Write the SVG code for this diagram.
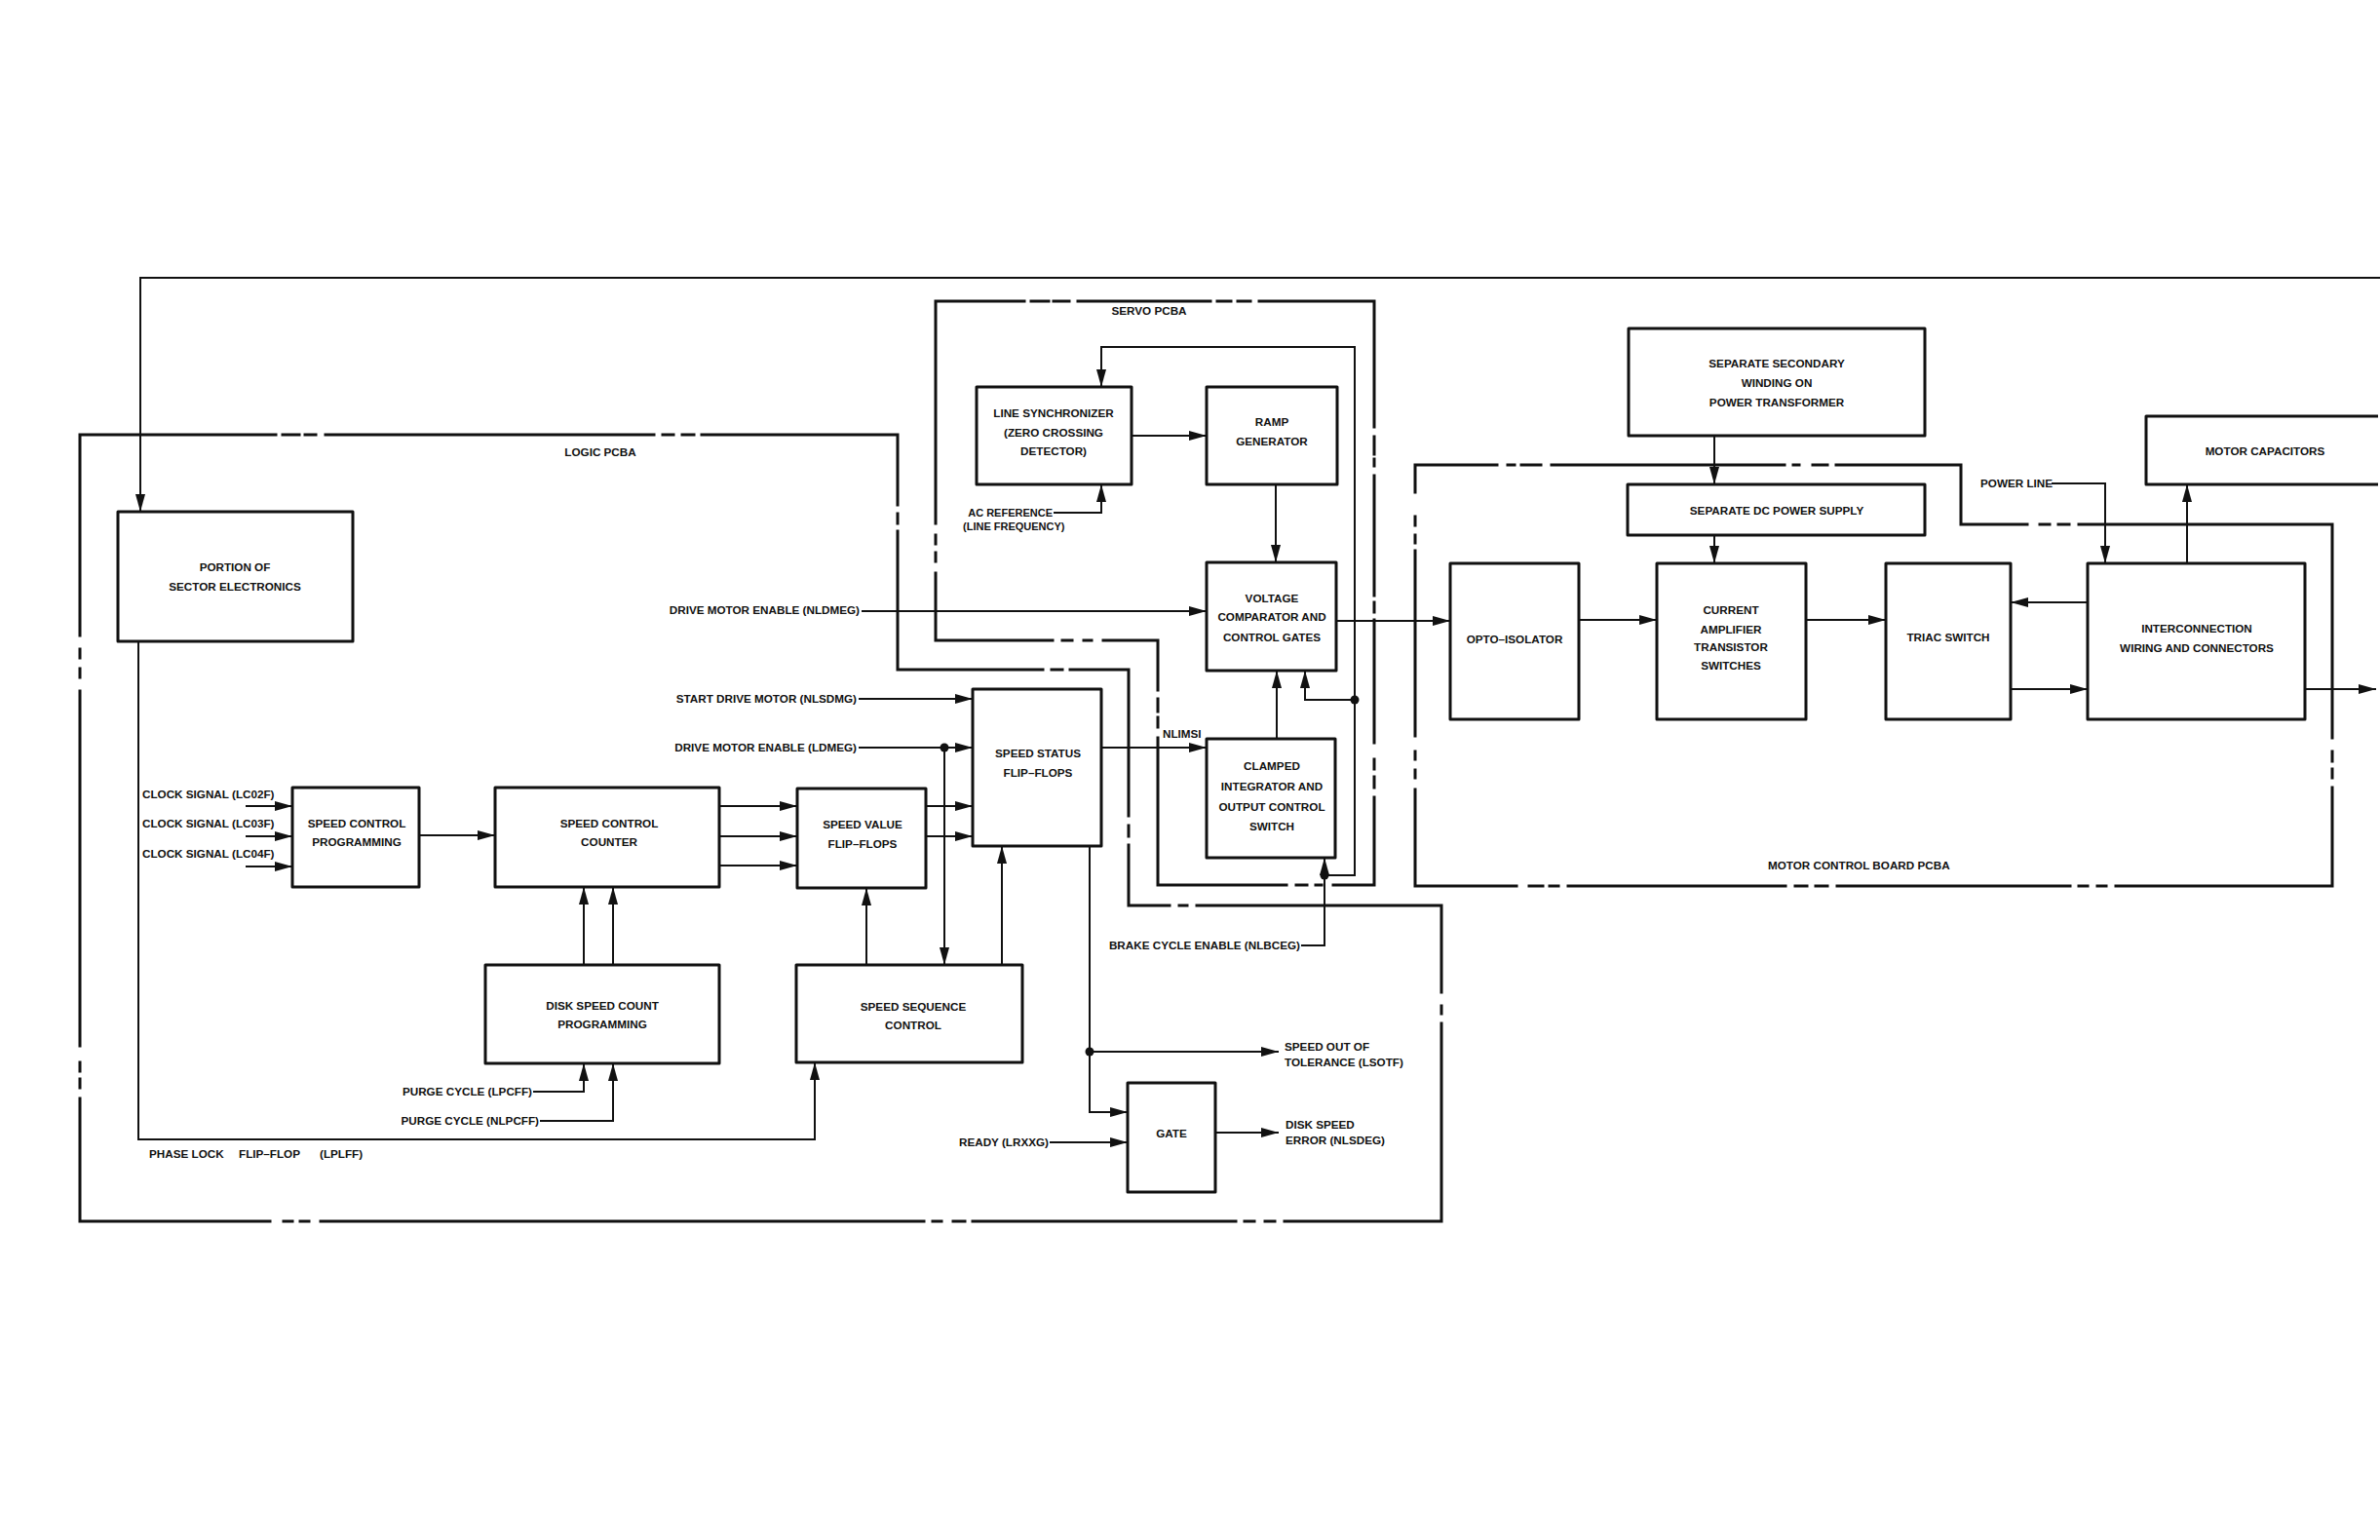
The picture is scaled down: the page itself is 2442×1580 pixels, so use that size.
<svg xmlns="http://www.w3.org/2000/svg" width="2442" height="1580" viewBox="0 0 2442 1580">
<style>
.box{fill:none;stroke:#111;stroke-width:3;stroke-linejoin:round}
.ln{fill:none;stroke:#111;stroke-width:2}
.bd{fill:none;stroke:#111;stroke-width:3;stroke-linecap:square;stroke-linejoin:miter}
text{font-family:"Liberation Sans",Arial,sans-serif;font-weight:bold;font-size:11.7px;fill:#111}
.c{text-anchor:middle}
.e{text-anchor:end}
.dot{fill:#111}
</style>
<defs>
<marker id="ah" markerUnits="userSpaceOnUse" markerWidth="18" markerHeight="10" refX="18" refY="5" orient="auto"><path d="M0,0 L18,5 L0,10 z" fill="#111"/></marker>
</defs>
<rect width="2442" height="1580" fill="#fff"/>

<g id="borders">
<path class="bd" d="M82,446 H283 M290,446 H307 M313,446 H324 M334,446 H671 M680,446 H691 M700,446 H712 M720,446 H921 V518 M921,527 V537 M921,545 V687 H1070 M1079,687 H1090 M1098,687 H1158 V837 M1158,847 V858 M1158,867 V929 H1200 M1210,929 H1218 M1228,929 H1479 V1018 M1479,1032 V1040 M1479,1050 V1253 H1318 M1308,1253 H1298 M1287,1253 H1277 M1268,1253 H998 M990,1253 H978 M966,1253 H957 M948,1253 H329 M317,1253 H308 M300,1253 H291 M277,1253 H82 V1127 M82,1116 V1107 M82,1099 V1090 M82,1073 V709 M82,695 V686 M82,675 V666 M82,652 V446"/>
<text class="c" x="616" y="468">LOGIC PCBA</text>
<path class="bd" d="M960,309 H1051 M1058,309 H1076 M1081,309 H1097 M1106,309 H1242 M1249,309 H1263 M1270,309 H1283 M1292,309 H1410 V438 M1410,448 V466 M1410,471 V478 M1410,488 V611 M1410,618 V628 M1410,636 V762 M1410,779 V789 M1410,797 V808 M1410,818 V908 H1368 M1356,908 H1350 M1341,908 H1330 M1320,908 H1188 V757 M1188,746 V736 M1188,730 V717 M1188,708 V657 H1132 M1120,657 H1112 M1100,657 H1090 M1080,657 H960 V588 M960,576 V567 M960,558 V549 M960,537 V309"/>
<text class="c" x="1179" y="323">SERVO PCBA</text>
<path class="bd" d="M1452,477 H1536 M1547,477 H1554 M1561,477 H1581 M1592,477 H1831 M1840,477 H1846 M1860,477 H1875 M1884,477 H2012 V538 H2080 M2093,538 H2103 M2112,538 H2123 M2133,538 H2393 V757 M2393,771 V781 M2393,789 V798 M2393,808 V909 H2171 M2161,909 H2152 M2142,909 H2133 M2124,909 H1885 M1875,909 H1863 M1854,909 H1842 M1832,909 H1609 M1599,909 H1590 M1583,909 H1569 M1556,909 H1452 V810 M1452,798 V790 M1452,779 V771 M1452,755 V565 M1452,557 V549 M1452,539 V530 M1452,505 V477"/>
<text x="1814" y="892">MOTOR CONTROL BOARD PCBA</text>
</g>

<g id="portion">
<rect class="box" x="121" y="525" width="241" height="133"/>
<text class="c" x="241" y="586">PORTION OF</text>
<text class="c" x="241" y="606">SECTOR ELECTRONICS</text>
</g>
<g id="speed-control-programming">
<rect class="box" x="300" y="808" width="130" height="102"/>
<text class="c" x="366" y="849">SPEED CONTROL</text>
<text class="c" x="366" y="868">PROGRAMMING</text>
</g>
<g id="speed-control-counter">
<rect class="box" x="508" y="808" width="230" height="102"/>
<text class="c" x="625" y="849">SPEED CONTROL</text>
<text class="c" x="625" y="868">COUNTER</text>
</g>
<g id="speed-value">
<rect class="box" x="818" y="809" width="132" height="102"/>
<text class="c" x="885" y="850">SPEED VALUE</text>
<text class="c" x="885" y="870">FLIP–FLOPS</text>
</g>
<g id="disk-speed-count">
<rect class="box" x="498" y="990" width="240" height="101"/>
<text class="c" x="618" y="1036">DISK SPEED COUNT</text>
<text class="c" x="618" y="1055">PROGRAMMING</text>
</g>
<g id="speed-sequence">
<rect class="box" x="817" y="990" width="232" height="100"/>
<text class="c" x="937" y="1037">SPEED SEQUENCE</text>
<text class="c" x="937" y="1056">CONTROL</text>
</g>
<g id="speed-status">
<rect class="box" x="998" y="707" width="132" height="161"/>
<text class="c" x="1065" y="777">SPEED STATUS</text>
<text class="c" x="1065" y="797">FLIP–FLOPS</text>
</g>
<g id="gate">
<rect class="box" x="1157" y="1111" width="90" height="112"/>
<text class="c" x="1202" y="1167">GATE</text>
</g>
<g id="line-sync">
<rect class="box" x="1002" y="397" width="159" height="100"/>
<text class="c" x="1081" y="428">LINE SYNCHRONIZER</text>
<text class="c" x="1081" y="448">(ZERO CROSSING</text>
<text class="c" x="1081" y="467">DETECTOR)</text>
</g>
<g id="ramp">
<rect class="box" x="1238" y="397" width="134" height="100"/>
<text class="c" x="1305" y="437">RAMP</text>
<text class="c" x="1305" y="457">GENERATOR</text>
</g>
<g id="voltage-comparator">
<rect class="box" x="1238" y="577" width="133" height="111"/>
<text class="c" x="1305" y="618">VOLTAGE</text>
<text class="c" x="1305" y="637">COMPARATOR AND</text>
<text class="c" x="1305" y="658">CONTROL GATES</text>
</g>
<g id="clamped-integrator">
<rect class="box" x="1238" y="758" width="132" height="122"/>
<text class="c" x="1305" y="790">CLAMPED</text>
<text class="c" x="1305" y="811">INTEGRATOR AND</text>
<text class="c" x="1305" y="832">OUTPUT CONTROL</text>
<text class="c" x="1305" y="852">SWITCH</text>
</g>
<g id="opto-isolator">
<rect class="box" x="1488" y="578" width="132" height="160"/>
<text class="c" x="1554" y="660">OPTO–ISOLATOR</text>
</g>
<g id="current-amplifier">
<rect class="box" x="1700" y="578" width="153" height="160"/>
<text class="c" x="1776" y="630">CURRENT</text>
<text class="c" x="1776" y="650">AMPLIFIER</text>
<text class="c" x="1776" y="668">TRANSISTOR</text>
<text class="c" x="1776" y="687">SWITCHES</text>
</g>
<g id="triac">
<rect class="box" x="1935" y="578" width="128" height="160"/>
<text class="c" x="1999" y="658">TRIAC SWITCH</text>
</g>
<g id="interconnection">
<rect class="box" x="2142" y="578" width="223" height="160"/>
<text class="c" x="2254" y="649">INTERCONNECTION</text>
<text class="c" x="2254" y="669">WIRING AND CONNECTORS</text>
</g>
<g id="secondary-winding">
<rect class="box" x="1671" y="337" width="304" height="110"/>
<text class="c" x="1823" y="377">SEPARATE SECONDARY</text>
<text class="c" x="1823" y="397">WINDING ON</text>
<text class="c" x="1823" y="417">POWER TRANSFORMER</text>
</g>
<g id="dc-supply">
<rect class="box" x="1670" y="497" width="305" height="52"/>
<text class="c" x="1823" y="528">SEPARATE DC POWER SUPPLY</text>
</g>
<g id="motor-capacitors">
<path class="box" d="M2440,427 H2202 V497 H2440"/>
<text class="c" x="2324" y="467">MOTOR CAPACITORS</text>
</g>

<g id="connectors">
<path class="ln" marker-end="url(#ah)" d="M2442,285 H144 V525"/>
<path class="ln" marker-end="url(#ah)" d="M142,658 V1169 H836 V1090"/>
<path class="ln" marker-end="url(#ah)" d="M252,827 H300"/>
<path class="ln" marker-end="url(#ah)" d="M252,858 H300"/>
<path class="ln" marker-end="url(#ah)" d="M252,889 H300"/>
<path class="ln" marker-end="url(#ah)" d="M430,857 H508"/>
<path class="ln" marker-end="url(#ah)" d="M738,827 H818"/>
<path class="ln" marker-end="url(#ah)" d="M738,858 H818"/>
<path class="ln" marker-end="url(#ah)" d="M738,888 H818"/>
<path class="ln" marker-end="url(#ah)" d="M950,827 H998"/>
<path class="ln" marker-end="url(#ah)" d="M950,858 H998"/>
<path class="ln" marker-end="url(#ah)" d="M599,990 V910"/>
<path class="ln" marker-end="url(#ah)" d="M629,990 V910"/>
<path class="ln" marker-end="url(#ah)" d="M547,1120 H599 V1091"/>
<path class="ln" marker-end="url(#ah)" d="M554,1150 H629 V1091"/>
<path class="ln" marker-end="url(#ah)" d="M889,990 V911"/>
<path class="ln" marker-end="url(#ah)" d="M1028,990 V868"/>
<path class="ln" marker-end="url(#ah)" d="M881,717 H998"/>
<path class="ln" marker-end="url(#ah)" d="M881,767 H998"/>
<path class="ln" marker-end="url(#ah)" d="M969,767 V990"/>
<circle class="dot" cx="969" cy="767" r="4.5"/>
<path class="ln" marker-end="url(#ah)" d="M1130,767 H1238"/>
<path class="ln" marker-end="url(#ah)" d="M1118,868 V1141 H1157"/>
<path class="ln" marker-end="url(#ah)" d="M1118,1079 H1312"/>
<circle class="dot" cx="1118" cy="1079" r="4.5"/>
<path class="ln" marker-end="url(#ah)" d="M1077,1172 H1157"/>
<path class="ln" marker-end="url(#ah)" d="M1247,1162 H1312"/>
<path class="ln" marker-end="url(#ah)" d="M1335,970 H1359 V880"/>
<path class="ln" marker-end="url(#ah)" d="M1359,898 H1390 V356 H1130 V397"/>
<circle class="dot" cx="1359" cy="898" r="4.5"/>
<path class="ln" marker-end="url(#ah)" d="M1390,718 H1339 V688"/>
<circle class="dot" cx="1390" cy="718" r="4.5"/>
<path class="ln" marker-end="url(#ah)" d="M1310,758 V688"/>
<path class="ln" marker-end="url(#ah)" d="M1309,497 V577"/>
<path class="ln" marker-end="url(#ah)" d="M1161,447 H1238"/>
<path class="ln" marker-end="url(#ah)" d="M1081,526 H1130 V497"/>
<path class="ln" marker-end="url(#ah)" d="M884,627 H1238"/>
<path class="ln" marker-end="url(#ah)" d="M1371,637 H1488"/>
<path class="ln" marker-end="url(#ah)" d="M1620,636 H1700"/>
<path class="ln" marker-end="url(#ah)" d="M1853,636 H1935"/>
<path class="ln" marker-end="url(#ah)" d="M2142,618 H2063"/>
<path class="ln" marker-end="url(#ah)" d="M2063,707 H2142"/>
<path class="ln" marker-end="url(#ah)" d="M2365,707 H2438"/>
<path class="ln" marker-end="url(#ah)" d="M2244,578 V497"/>
<path class="ln" marker-end="url(#ah)" d="M2105,496 H2160 V578"/>
<path class="ln" marker-end="url(#ah)" d="M1759,447 V497"/>
<path class="ln" marker-end="url(#ah)" d="M1759,549 V578"/>
</g>

<g id="labels">
<text class="e" x="882" y="630">DRIVE MOTOR ENABLE (NLDMEG)</text>
<text class="e" x="879" y="721">START DRIVE MOTOR (NLSDMG)</text>
<text class="e" x="879" y="771">DRIVE MOTOR ENABLE (LDMEG)</text>
<text x="1193" y="757">NLIMSI</text>
<text x="146" y="819">CLOCK SIGNAL (LC02F)</text>
<text x="146" y="849">CLOCK SIGNAL (LC03F)</text>
<text x="146" y="880">CLOCK SIGNAL (LC04F)</text>
<text class="e" x="546" y="1124">PURGE CYCLE (LPCFF)</text>
<text class="e" x="553" y="1154">PURGE CYCLE (NLPCFF)</text>
<text x="153" y="1188">PHASE LOCK</text>
<text x="245" y="1188">FLIP–FLOP</text>
<text x="328" y="1188">(LPLFF)</text>
<text class="e" x="1334" y="974">BRAKE CYCLE ENABLE (NLBCEG)</text>
<text x="1318" y="1078">SPEED OUT OF</text>
<text x="1318" y="1094">TOLERANCE (LSOTF)</text>
<text class="e" x="1076" y="1176">READY (LRXXG)</text>
<text x="1319" y="1158">DISK SPEED</text>
<text x="1319" y="1174">ERROR (NLSDEG)</text>
<text class="e" x="1080" y="530" style="font-size:11px">AC REFERENCE</text>
<text x="988" y="544" style="font-size:11px">(LINE FREQUENCY)</text>
<text x="2032" y="500">POWER LINE</text>
</g>
</svg>
